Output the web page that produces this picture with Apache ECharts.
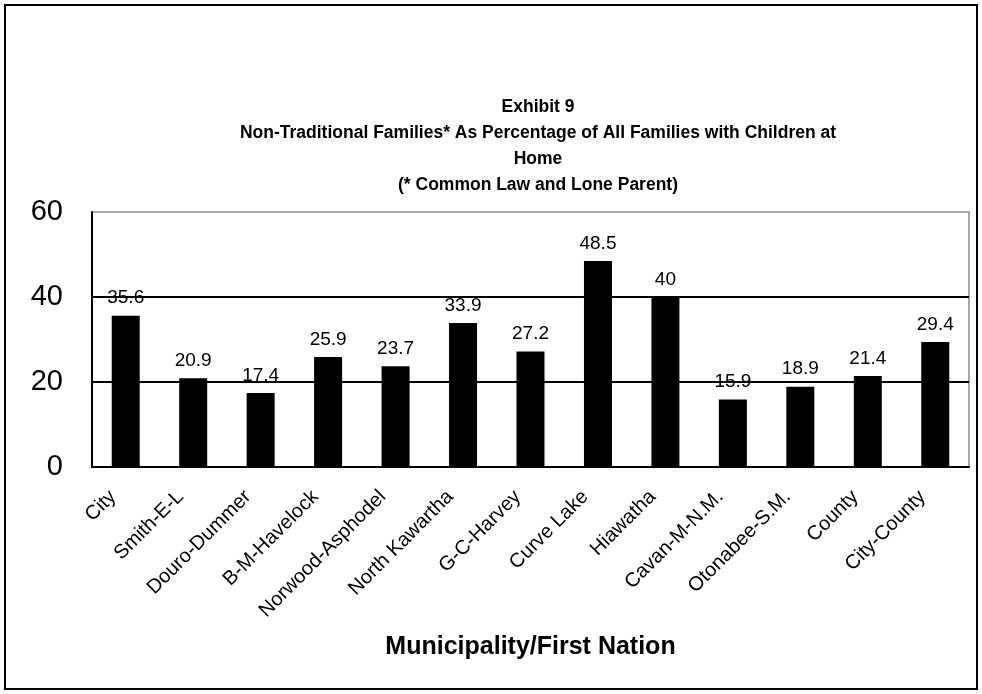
<!DOCTYPE html>
<html>
<head>
<meta charset="utf-8">
<script src="https://cdn.jsdelivr.net/npm/echarts@6/dist/echarts.min.js"></script>
<style>
  html, body { margin: 0; padding: 0; background: #fff; }
  #chart { width: 982px; height: 694px; }
</style>
</head>
<body>
<div id="chart"></div>
<script>
// Municipalities / First Nations along the horizontal axis
var categories = [
  'City', 'Smith-E-L', 'Douro-Dummer', 'B-M-Havelock', 'Norwood-Asphodel',
  'North Kawartha', 'G-C-Harvey', 'Curve Lake', 'Hiawatha', 'Cavan-M-N.M.',
  'Otonabee-S.M.', 'County', 'City-County'
];

// Non-traditional families as % of all families with children at home
var percentages = [35.6, 20.9, 17.4, 25.9, 23.7, 33.9, 27.2, 48.5, 40, 15.9, 18.9, 21.4, 29.4];

// Value axis ticks
var yTicks = [0, 20, 40, 60];

var titleLines = [
  'Exhibit 9',
  'Non-Traditional Families* As Percentage of All Families with Children at',
  'Home',
  '(* Common Law and Lone Parent)'
];
var xAxisTitle = 'Municipality/First Nation';

var chart = echarts.init(document.getElementById('chart'), null, { renderer: 'canvas' });

var FONT = 'Liberation Sans, Arial, Helvetica, sans-serif';

chart.setOption({
  backgroundColor: '#ffffff',
  animation: false,
  textStyle: { fontFamily: FONT },
  title: {
    text: titleLines.join('\n'),
    left: 533,
    top: 89,
    textAlign: 'center',
    textStyle: {
      fontFamily: FONT,
      fontSize: 17.5,
      fontWeight: 'bold',
      color: '#000',
      lineHeight: 26
    }
  },
  graphic: [{
    type: 'rect',
    shape: { x: 5, y: 5, width: 972, height: 684 },
    style: { fill: 'none', stroke: '#000', lineWidth: 2 },
    silent: true,
    z: -1
  }],
  grid: {
    left: 92,
    right: 13,
    top: 212,
    bottom: 227,
    show: true,
    borderColor: '#8c8c8c',
    borderWidth: 1.5,
    backgroundColor: 'transparent'
  },
  xAxis: {
    type: 'category',
    data: categories,
    name: xAxisTitle,
    nameLocation: 'middle',
    nameGap: 168,
    nameTextStyle: {
      fontFamily: FONT,
      fontSize: 25,
      fontWeight: 'bold',
      color: '#000',
      verticalAlign: 'top'
    },
    axisLine: { show: true, lineStyle: { color: '#000', width: 2 } },
    axisTick: { show: false },
    axisLabel: {
      interval: 0,
      rotate: 45,
      margin: 14,
      padding: [0, 18, 0, 0],
      fontFamily: FONT,
      fontSize: 20,
      color: '#000'
    }
  },
  yAxis: {
    type: 'value',
    min: yTicks[0],
    max: yTicks[yTicks.length - 1],
    interval: yTicks[1] - yTicks[0],
    axisLine: { show: true, lineStyle: { color: '#000', width: 2 } },
    axisTick: { show: false },
    axisLabel: {
      margin: 29,
      fontFamily: FONT,
      fontSize: 29,
      color: '#000'
    },
    splitLine: {
      show: true,
      showMaxLine: false,
      lineStyle: { color: '#000', width: 2 }
    }
  },
  series: [{
    type: 'bar',
    data: percentages,
    barWidth: 28,
    itemStyle: { color: '#000' },
    label: {
      show: true,
      position: 'top',
      distance: 8,
      fontFamily: FONT,
      fontSize: 19,
      color: '#000'
    }
  }]
});
</script>
</body>
</html>
